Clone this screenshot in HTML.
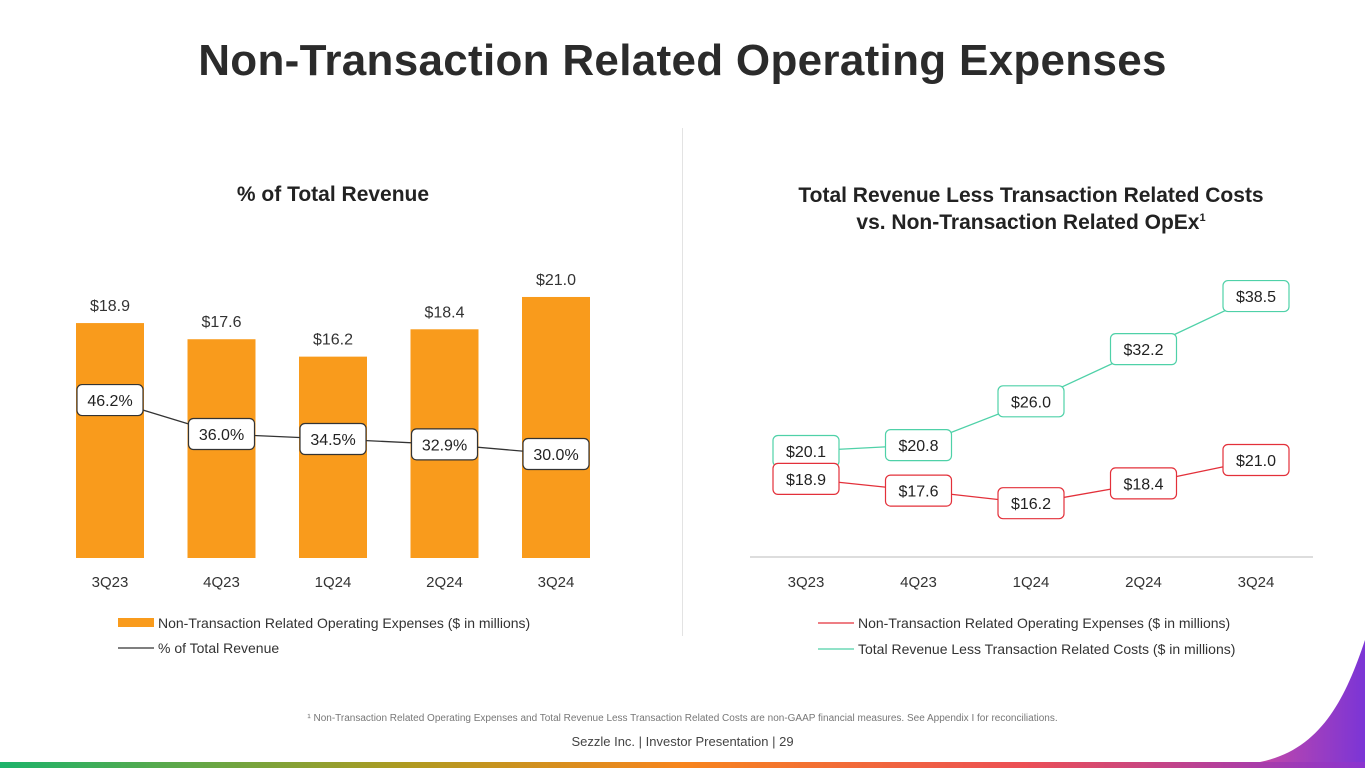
<!DOCTYPE html>
<html><head><meta charset="utf-8"><style>
body{margin:0;width:1365px;height:768px;overflow:hidden;background:#fff;font-family:"Liberation Sans",sans-serif;color:#222;position:relative}
.t{position:absolute;white-space:nowrap}
</style></head><body>
<div class="t" style="left:0;width:1365px;text-align:center;top:36px;font-size:44px;font-weight:bold;color:#2b2b2b;letter-spacing:0.3px">Non-Transaction Related Operating Expenses</div>
<div style="position:absolute;left:682px;top:128px;width:1px;height:508px;background:#e3e3e3"></div>
<div class="t" style="left:0;width:666px;text-align:center;top:183px;font-size:21px;font-weight:bold">% of Total Revenue</div>
<div class="t" style="left:700px;width:662px;text-align:center;top:182px;font-size:21px;font-weight:bold;line-height:27px">Total Revenue Less Transaction Related Costs<br>vs. Non-Transaction Related OpEx<sup style="font-size:11px;line-height:0">1</sup></div>
<svg id="ch" width="1365" height="768" style="position:absolute;left:0;top:0" font-family="Liberation Sans, sans-serif">
<defs>
<linearGradient id="strip" x1="0" x2="1"><stop offset="0" stop-color="#1db36a"/><stop offset="0.3" stop-color="#b09a20"/><stop offset="0.5" stop-color="#f7851d"/><stop offset="0.75" stop-color="#ec4f55"/><stop offset="1" stop-color="#8a34d0"/></linearGradient>
<linearGradient id="pur" x1="0" x2="1"><stop offset="0" stop-color="#c248a8"/><stop offset="1" stop-color="#7b35d6"/></linearGradient>
</defs>
<path d="M1365 640 C1345 700 1320 750 1260 762 L1365 762 Z" fill="url(#pur)"/>
<rect x="0" y="762" width="1365" height="6" fill="url(#strip)"/>
</svg>
<div class="t" style="left:0;width:1365px;text-align:center;top:713px;font-size:10px;color:#777">¹ Non-Transaction Related Operating Expenses and Total Revenue Less Transaction Related Costs are non-GAAP financial measures. See Appendix I for reconciliations.</div>
<div class="t" style="left:0;width:1365px;text-align:center;top:734px;font-size:13px;color:#444">Sezzle Inc. | Investor Presentation | 29</div>
<script>
const quarters=["3Q23","4Q23","1Q24","2Q24","3Q24"];
const opex=[18.9,17.6,16.2,18.4,21.0];
const pctRev=[46.2,36.0,34.5,32.9,30.0];
const revLess=[20.1,20.8,26.0,32.2,38.5];
const opexR=[18.9,17.6,16.2,18.4,21.0];
const svg=document.getElementById('ch');
const NS='http://www.w3.org/2000/svg';
function mk(t,a,p){const e=document.createElementNS(NS,t);for(const k in a)e.setAttribute(k,a[k]);(p||svg).appendChild(e);return e;}
const lx=i=>110+i*111.5, rx=i=>806+i*112.5;
const by=v=>558-v*12.43, py=v=>454-(v-30)*3.33;
const gy=v=>451-(v-20.1)*8.42, ry=v=>460-(v-21)*9;
quarters.forEach((q,i)=>{
 const b=mk('rect',{x:lx(i)-34,y:by(opex[i]),width:68,height:558-by(opex[i]),fill:'#f99b1c'});
 
 
 const l=mk('text',{x:lx(i),y:by(opex[i])-12,'text-anchor':'middle','font-size':16,fill:'#333'});l.textContent='$'+opex[i].toFixed(1);
 
 
 const t=mk('text',{x:lx(i),y:587,'text-anchor':'middle','font-size':15,fill:'#333'});t.textContent=q;
 
 
 const t2=mk('text',{x:rx(i),y:587,'text-anchor':'middle','font-size':15,fill:'#333'});t2.textContent=q;
 
 
});
const ax=mk('line',{x1:750,x2:1313,y1:557,y2:557,stroke:'#ddd','stroke-width':2});


function series(xs,ys,vals,color,fmt,name){
 const pl=mk('polyline',{points:vals.map((v,i)=>xs(i)+','+ys(v)).join(' '),fill:'none',stroke:color,'stroke-width':1.3});
 
 
 vals.forEach((v,i)=>{
  const r=mk('rect',{x:xs(i)-33,y:ys(v)-15.5,width:66,height:31,rx:5,fill:'#fff',stroke:color,'stroke-width':1.2});
  
  
  const t=mk('text',{x:xs(i),y:ys(v)+6,'text-anchor':'middle','font-size':16,fill:'#222'});t.textContent=fmt(v);
  
  
 });
}
series(lx,py,pctRev,'#333',v=>v.toFixed(1)+'%','pct-revenue');
series(rx,gy,revLess,'#4fd1a8',v=>'$'+v.toFixed(1),'revenue-less-costs');
series(rx,ry,opexR,'#e3303a',v=>'$'+v.toFixed(1),'opex');
function leg(x,y,kind,color,txt,name){
 if(kind==='bar')mk('rect',{x:x,y:y-5,width:36,height:9,fill:color});
 else mk('line',{x1:x,x2:x+36,y1:y,y2:y,stroke:color,'stroke-width':1.3});
 const t=mk('text',{x:x+40,y:y+5,'font-size':14,fill:'#333'});t.textContent=txt;
 
 
}
leg(118,623,'bar','#f99b1c','Non-Transaction Related Operating Expenses ($ in millions)','legend-opex-bar');
leg(118,648,'line','#333','% of Total Revenue','legend-pct-line');
leg(818,623,'line','#e3303a','Non-Transaction Related Operating Expenses ($ in millions)','legend-opex-line');
leg(818,649,'line','#4fd1a8','Total Revenue Less Transaction Related Costs ($ in millions)','legend-revenue-line');
</script>
</body></html>
